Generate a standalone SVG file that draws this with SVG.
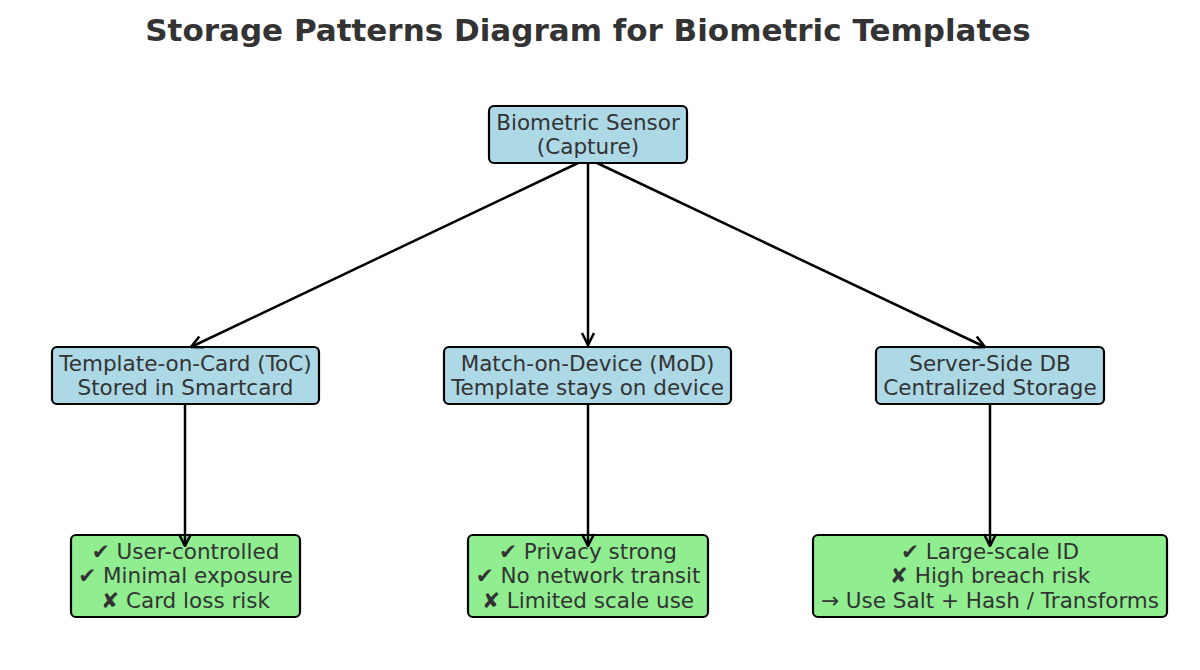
<svg xmlns="http://www.w3.org/2000/svg" width="1200" height="670" viewBox="0 0 1200 670">
<style>
text{font-family:"DejaVu Sans",sans-serif;fill:#333;text-anchor:middle}
.t{font-size:21.5px;dominant-baseline:central}
.title{font-size:31px;font-weight:bold;fill:#333}
.blue{fill:#add8e6;stroke:#000;stroke-width:2.2}
.green{fill:#90ee90;stroke:#000;stroke-width:2.2}
.c{stroke:#000;stroke-width:2.5;fill:none;marker-end:url(#ah)}
</style>
<defs>
<marker id="ah" viewBox="0 0 14 14" refX="13" refY="7" markerWidth="14" markerHeight="14" markerUnits="userSpaceOnUse" orient="auto">
<path d="M1,1 L13,7 L1,13" fill="none" stroke="#000" stroke-width="2.5"/>
</marker>
</defs>
<rect width="1200" height="670" fill="#fff"/>
<text class="title" x="588" y="41">Storage Patterns Diagram for Biometric Templates</text>
<g id="sensor">
<rect class="blue" x="489" y="106" width="198" height="57" rx="5"/>
<text class="t" x="588" y="122">Biometric Sensor</text>
<text class="t" x="588" y="146">(Capture)</text>
</g>
<g id="toc">
<rect class="blue" x="52" y="347" width="267" height="57" rx="5"/>
<text class="t" x="185.5" y="363">Template-on-Card (ToC)</text>
<text class="t" x="185.5" y="387">Stored in Smartcard</text>
</g>
<g id="mod">
<rect class="blue" x="444" y="347" width="287" height="57" rx="5"/>
<text class="t" x="587.5" y="363">Match-on-Device (MoD)</text>
<text class="t" x="587.5" y="387">Template stays on device</text>
</g>
<g id="server">
<rect class="blue" x="876" y="347" width="228" height="57" rx="5"/>
<text class="t" x="990" y="363">Server-Side DB</text>
<text class="t" x="990" y="387">Centralized Storage</text>
</g>
<g id="toc-props">
<rect class="green" x="71" y="535" width="229" height="82" rx="5"/>
<text class="t" x="185.5" y="551">✔ User-controlled</text>
<text class="t" x="185.5" y="575">✔ Minimal exposure</text>
<text class="t" x="185.5" y="600">✘ Card loss risk</text>
</g>
<g id="mod-props">
<rect class="green" x="468" y="535" width="240" height="82" rx="5"/>
<text class="t" x="588" y="551">✔ Privacy strong</text>
<text class="t" x="588" y="575">✔ No network transit</text>
<text class="t" x="588" y="600">✘ Limited scale use</text>
</g>
<g id="server-props">
<rect class="green" x="813" y="535" width="354" height="82" rx="5"/>
<text class="t" x="990" y="551">✔ Large-scale ID</text>
<text class="t" x="990" y="575">✘ High breach risk</text>
<text class="t" x="990" y="600">→ Use Salt + Hash / Transforms</text>
</g>
<g id="connectors">
<line class="c" x1="578" y1="163" x2="191" y2="347"/>
<line class="c" x1="588" y1="163" x2="588" y2="345"/>
<line class="c" x1="597" y1="163" x2="985" y2="347"/>
<line class="c" x1="185" y1="404" x2="185" y2="546"/>
<line class="c" x1="588" y1="404" x2="588" y2="546"/>
<line class="c" x1="990" y1="404" x2="990" y2="546"/>
</g>
</svg>
